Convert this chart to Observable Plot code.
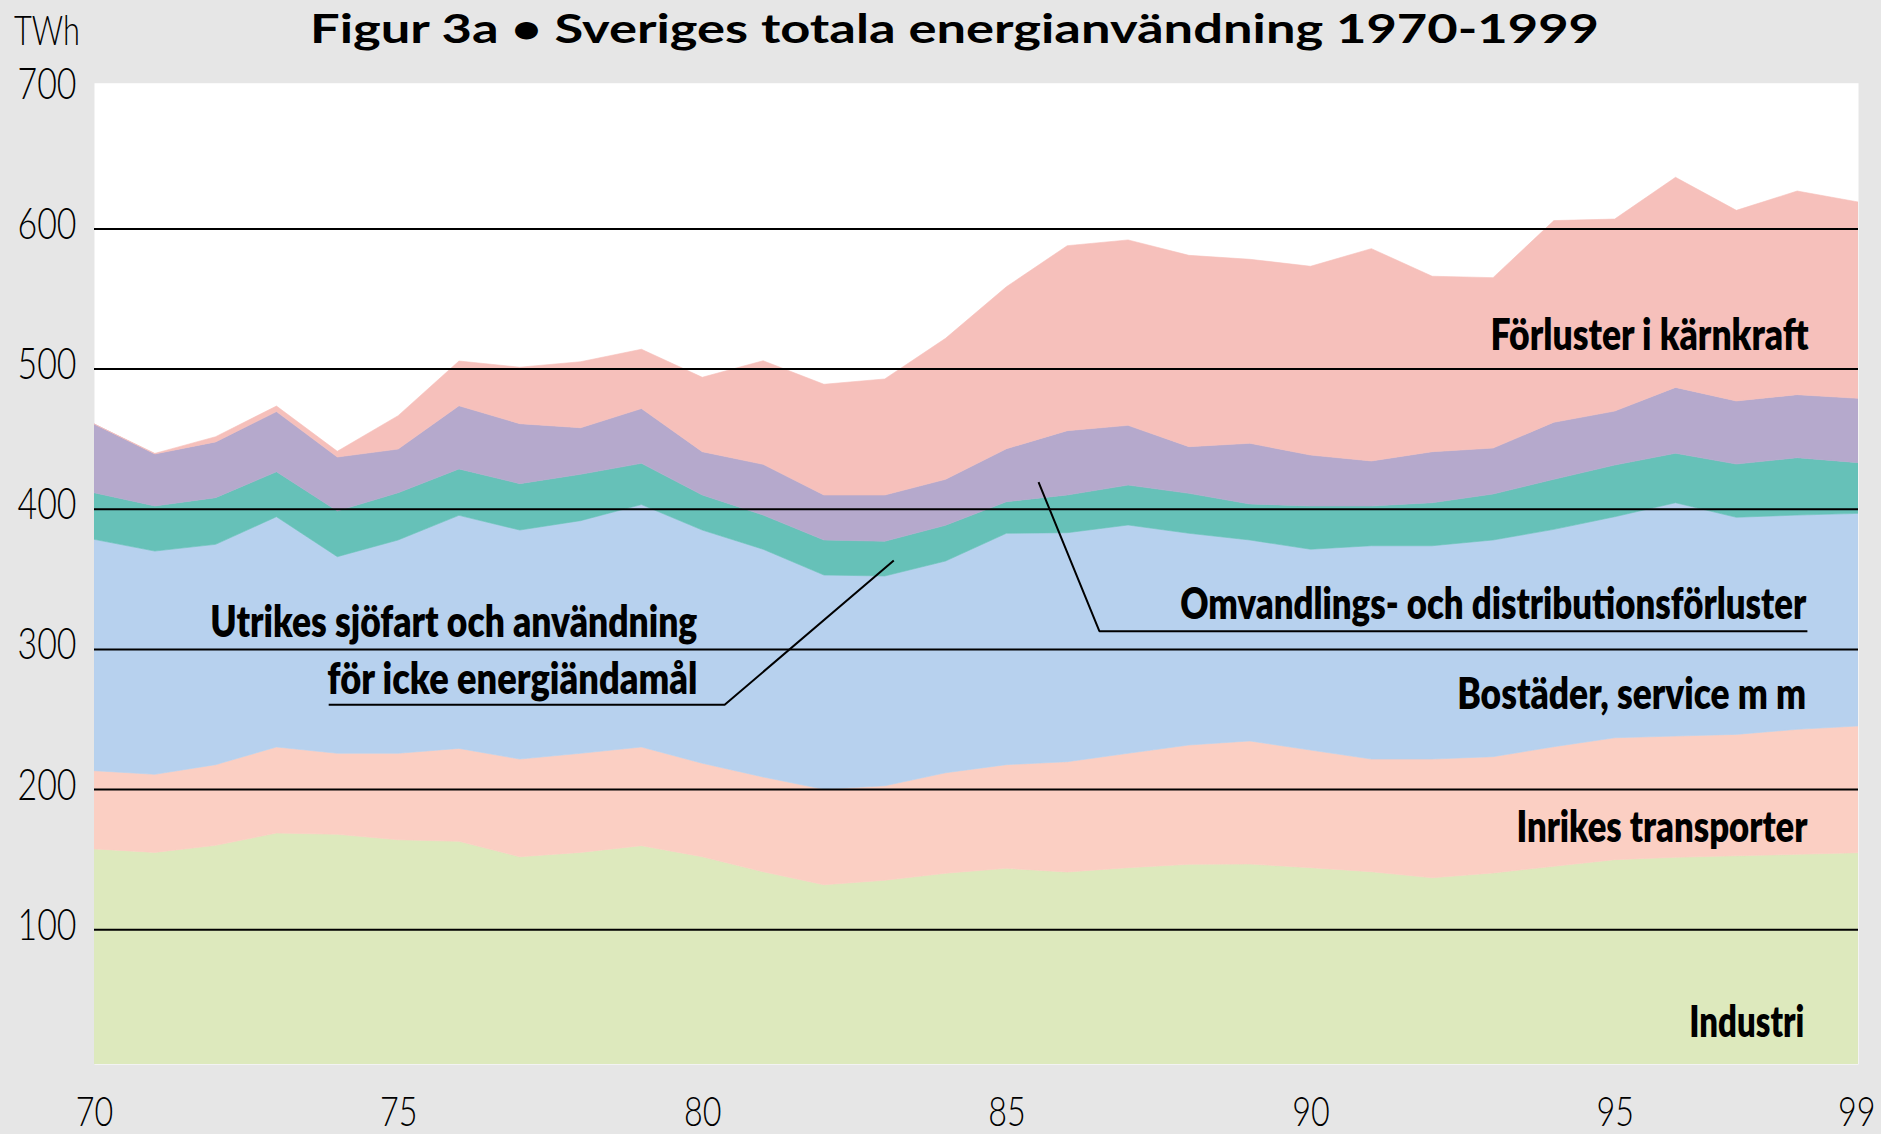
<!DOCTYPE html>
<html>
<head>
<meta charset="utf-8">
<script src="https://cdn.jsdelivr.net/npm/d3@7"></script>
<script src="https://cdn.jsdelivr.net/npm/@observablehq/plot@0.6"></script>
<style>
html, body { margin: 0; padding: 0; background: #e6e6e6; }
#wrap { width: 1881px; height: 1134px; position: relative; overflow: hidden; }
#head { position: relative; height: 60px; }
#title { position: absolute; left: 310px; top: 8px; font: 700 40px/40px Lato, sans-serif; white-space: nowrap; transform-origin: 0 0; color: #000; }
#unit { position: absolute; left: 14px; top: 8px; font: 300 42px/42px Lato, sans-serif; white-space: nowrap; transform-origin: 0 0; color: #000; }
</style>
</head>
<body>
<div id="wrap">
  <div id="head">
    <span id="unit">TWh</span>
    <span id="title">Figur 3a • Sveriges totala energianvändning 1970-1999</span>
  </div>
  <div id="chart"></div>
</div>
<script>
// ---- Data (TWh) ----
const years = [1970,1971,1972,1973,1974,1975,1976,1977,1978,1979,1980,1981,1982,1983,1984,1985,1986,1987,1988,1989,1990,1991,1992,1993,1994,1995,1996,1997,1998,1999];

const industri   = [157.3,154.8,159.8,168.6,167.7,163.8,162.7,151.7,154.8,159.6,151.7,141.0,131.7,134.9,139.9,143.4,140.8,143.9,146.3,146.5,143.9,141.0,136.7,140.1,144.9,149.6,151.3,152.4,153.4,154.6];
const inrikes    = [55.8,55.7,57.6,61.4,57.8,61.7,66.3,69.7,70.7,70.4,66.7,67.6,68.1,67.4,71.7,74.0,78.7,81.6,85.1,87.8,83.9,80.4,84.7,83.0,85.3,87.0,86.5,86.6,89.2,90.4];
const bostader   = [165.1,159.3,157.2,164.3,140.3,152.2,166.3,163.4,166.0,173.0,166.4,162.5,152.9,149.7,151.1,165.1,163.4,162.9,151.1,143.4,143.3,152.2,152.2,154.6,155.1,157.7,166.5,154.9,152.9,151.7];
const utrikes    = [33.2,32.2,33.3,32.1,32.6,33.7,33.1,33.1,33.1,29.4,25.0,24.4,25.0,24.8,25.5,22.5,26.9,28.5,28.5,25.7,30.9,28.4,30.7,32.8,35.7,36.9,35.3,38.0,40.9,36.2];
const omvandling = [49.1,37.1,39.8,42.9,38.5,31.2,45.1,42.8,33.2,39.1,30.9,36.2,32.1,33.0,32.8,37.8,45.9,42.6,33.3,43.3,36.3,32.1,36.4,32.8,40.7,38.5,47.0,45.0,45.0,45.9];
const karnkraft  = [0.0,0.4,3.7,4.0,4.1,23.8,31.9,40.3,47.1,42.3,53.1,73.9,79.0,82.8,100.6,115.6,132.0,132.3,136.5,131.3,134.7,151.5,125.2,121.6,143.9,137.0,149.9,136.0,145.3,140.1];

const seriesNames = [
  "Industri",
  "Inrikes transporter",
  "Bostäder, service m m",
  "Utrikes sjöfart och användning för icke energiändamål",
  "Omvandlings- och distributionsförluster",
  "Förluster i kärnkraft"
];
const seriesColors = ["#dde9bd", "#fbcfc3", "#b7d1ee", "#66c1b8", "#b5a9cc", "#f6c0bb"];

const yTicks = [100, 200, 300, 400, 500, 600, 700];
const yTickLabels = ["100", "200", "300", "400", "500", "600", "700"];
const gridValues = [100, 200, 300, 400, 500, 600];
const xTicks = [1970, 1975, 1980, 1985, 1990, 1995, 1999];
const xTickLabels = ["70", "75", "80", "85", "90", "95", "99"];

// Annotations (in data units: year, TWh)
const labels = [
  {text: "Förluster i kärnkraft", x: 1998.18, y: 513.3, w: 318},
  {text: "Omvandlings- och distributionsförluster", x: 1998.14, y: 322.0, w: 626},
  {text: "Bostäder, service m m", x: 1998.14, y: 257.6, w: 349},
  {text: "Inrikes transporter", x: 1998.16, y: 162.7, w: 291},
  {text: "Industri", x: 1998.11, y: 23.3, w: 115},
  {text: "Utrikes sjöfart och användning", x: 1979.91, y: 308.7, w: 487},
  {text: "för icke energiändamål", x: 1979.91, y: 268.3, w: 370}
];
const leaders = [
  {g: "omv", x: 1985.52, y: 419.3},
  {g: "omv", x: 1986.52, y: 313.0},
  {g: "omv", x: 1998.16, y: 313.0},
  {g: "utr", x: 1973.85, y: 260.5},
  {g: "utr", x: 1980.36, y: 260.5},
  {g: "utr", x: 1983.14, y: 363.4}
];

// ---- Build tidy table ----
const seriesValues = [industri, inrikes, bostader, utrikes, omvandling, karnkraft];
const table = seriesNames.flatMap((s, i) => years.map((yr, j) => ({year: yr, series: s, value: seriesValues[i][j]})));
const yTickData = yTicks.map((v, i) => ({v, label: yTickLabels[i]}));
const xTickData = xTicks.map((v, i) => ({v, label: xTickLabels[i]}));
const xTickInner = xTickData.slice(0, -1);
const xTickLast = xTickData.slice(-1);

const tickFont = {fontFamily: "Lato, sans-serif", fontWeight: 300, fill: "black"};

const chart = Plot.plot({
  width: 1881,
  height: 1074,
  marginLeft: 94,
  marginRight: 23,
  marginTop: 22.7,
  marginBottom: 70,
  style: {background: "#e6e6e6", overflow: "visible"},
  x: {domain: [1970, 1999], axis: null},
  y: {domain: [3.8, 704], axis: null},
  color: {domain: seriesNames, range: seriesColors},
  marks: [
    Plot.frame({fill: "white", stroke: null}),
    Plot.areaY(table, {x: "year", y: "value", z: "series", fill: "series", stroke: "series", strokeWidth: 0.6, clip: true}),
    Plot.ruleY(gridValues, {stroke: "black", strokeWidth: 2}),
    Plot.line(leaders, {x: "x", y: "y", z: "g", stroke: "black", strokeWidth: 2, strokeLinejoin: "miter", strokeLinecap: "butt"}),
    Plot.text(labels, {x: "x", y: "y", text: "text", textAnchor: "end", lineAnchor: "bottom",
      fontFamily: "Lato, sans-serif", fontWeight: 800, fontSize: 43, fill: "black"}),
    Plot.text(yTickData, {y: "v", text: "label", frameAnchor: "left", textAnchor: "start", lineAnchor: "bottom", dx: -77, dy: 10,
      fontSize: 43, ...tickFont}),
    Plot.text(xTickInner, {x: "v", text: "label", frameAnchor: "bottom", textAnchor: "middle", lineAnchor: "bottom", dy: 61,
      fontSize: 41, ...tickFont}),
    Plot.text(xTickLast, {x: "v", text: "label", frameAnchor: "bottom", textAnchor: "end", lineAnchor: "bottom", dy: 61, dx: 17,
      fontSize: 41, ...tickFont})
  ]
});
document.getElementById("chart").appendChild(chart);

// ---- Condense text to match the narrow typeface of the original ----
function fitTexts() {
  const groups = chart.querySelectorAll('g[aria-label="text"]');
  const lblTexts = groups[0] ? [...groups[0].querySelectorAll("text")] : [];
  lblTexts.forEach((t, i) => {
    t.removeAttribute("textLength");
    t.setAttribute("textLength", labels[i].w);
    t.setAttribute("lengthAdjust", "spacingAndGlyphs");
  });
  const yt = groups[1] ? [...groups[1].querySelectorAll("text")] : [];
  const xt = [...(groups[2] ? groups[2].querySelectorAll("text") : []), ...(groups[3] ? groups[3].querySelectorAll("text") : [])];
  const ticks = [...yt, ...xt];
  ticks.forEach(t => t.removeAttribute("textLength"));
  const ref = yt.find(t => t.textContent === "700");
  const k = ref ? 59 / ref.getComputedTextLength() : 0.8;
  ticks.forEach(t => {
    const w = t.getComputedTextLength();
    t.setAttribute("textLength", (w * k).toFixed(2));
    t.setAttribute("lengthAdjust", "spacingAndGlyphs");
  });
  const title = document.getElementById("title");
  title.style.transform = "";
  title.style.transform = `scaleX(${1289 / title.getBoundingClientRect().width})`;
  const unit = document.getElementById("unit");
  unit.style.transform = "";
  unit.style.transform = `scaleX(${66 / unit.getBoundingClientRect().width})`;
}
fitTexts();
if (document.fonts && document.fonts.ready) {
  document.fonts.ready.then(fitTexts);
}
</script>
</body>
</html>
